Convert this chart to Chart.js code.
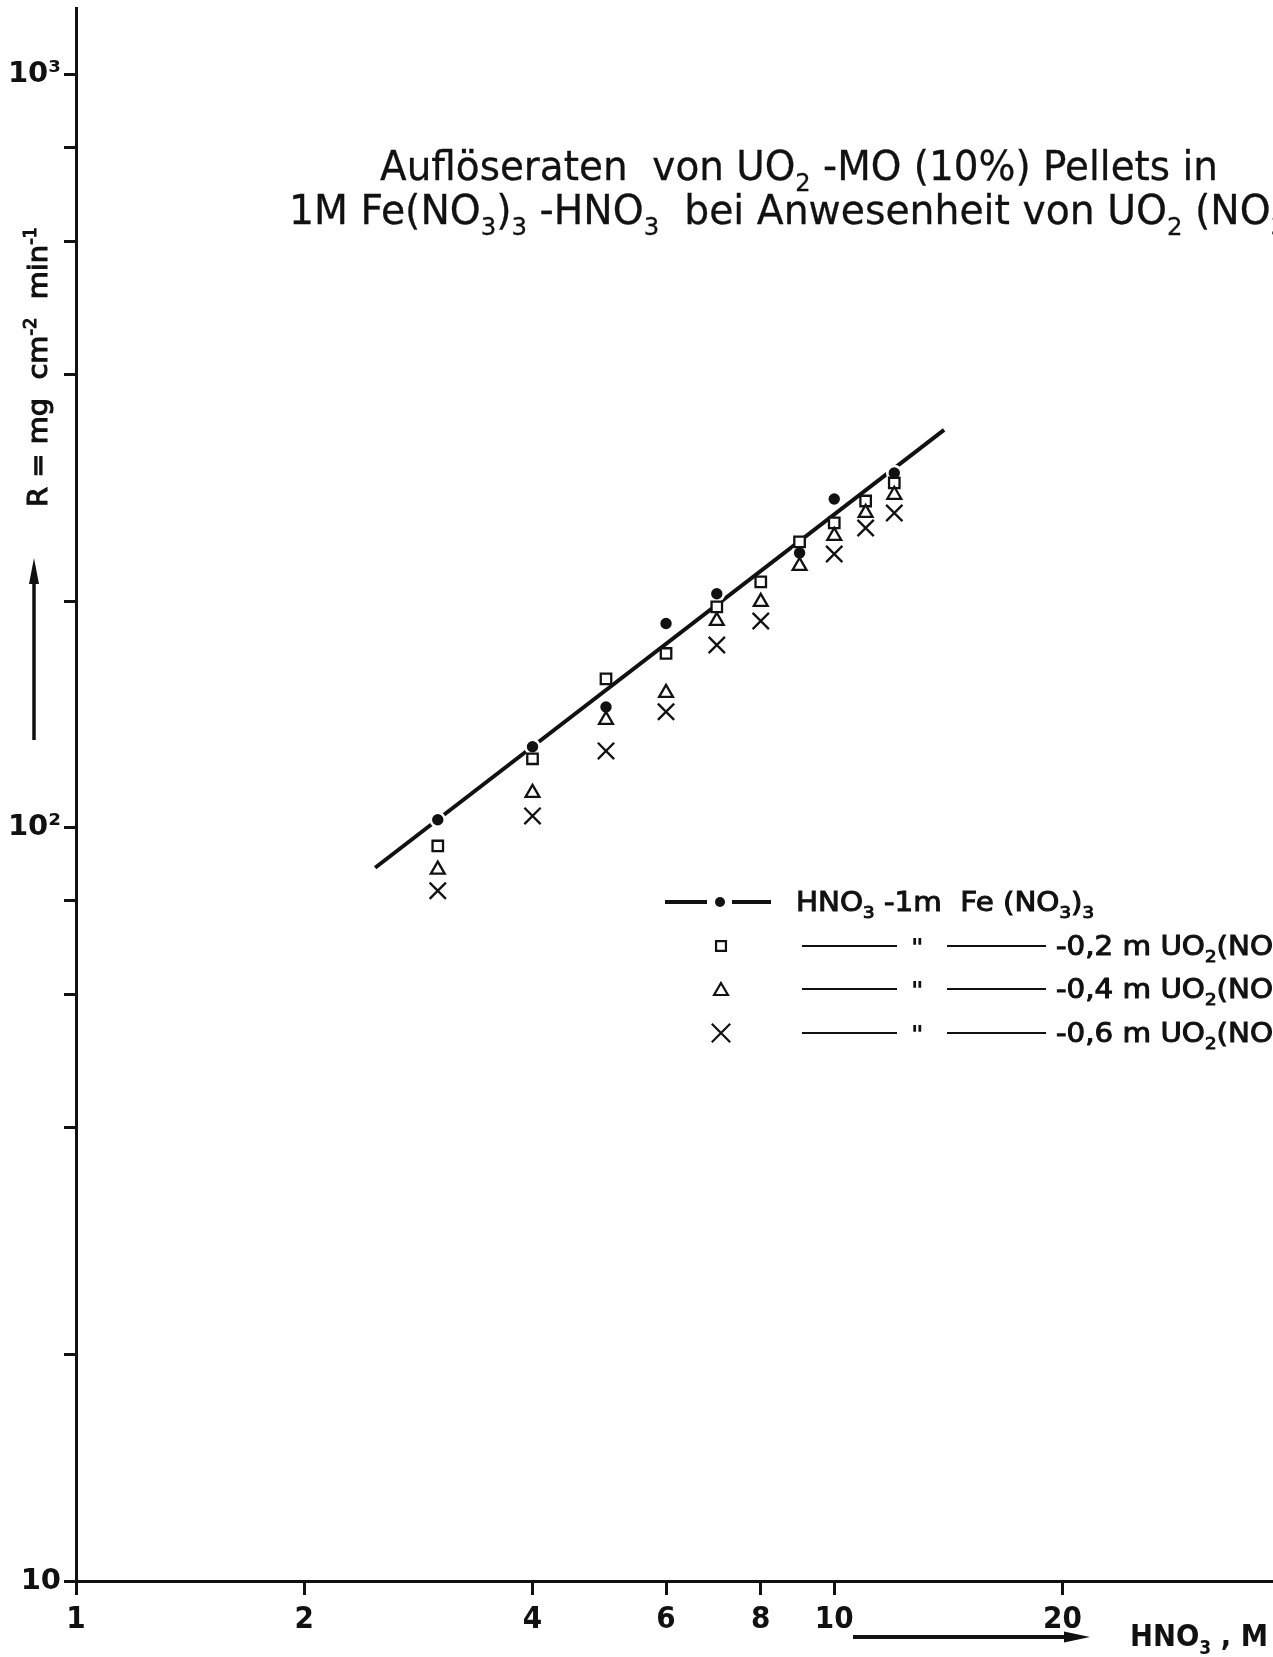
<!DOCTYPE html>
<html>
<head>
<meta charset="utf-8">
<script src="https://cdn.jsdelivr.net/npm/chart.js@4"></script>
<style>
  html, body { margin: 0; padding: 0; background: #fff; }
  canvas { display: block; }
</style>
</head>
<body>
<canvas id="chart" width="1273" height="1657"></canvas>
<script>
// HNO3 concentration (M) at which the pellets were dissolved
const concHNO3 = [3, 4, 5, 6, 7, 8, 9, 10, 11, 12];

// dissolution rate R in mg cm^-2 min^-1 (null = not measured)
const rateFe   = [102.5, 128.1, 144.7, 186.8, 204.5, null, 231.7, 273.3, null, 295.9];
const rateU02  = [94.6, 123.5, 157.7, 170.4, 196.5, 212.1, 239.7, 254.0, 271.6, 287.0];
const rateU04  = [88.0, 111.3, 139.1, 151.1, 188.3, 199.5, 222.7, 244.1, 261.9, 276.8];
const rateU06  = [82.5, 103.7, 126.5, 142.6, 174.9, 188.2, null, 231.0, 250.1, 261.8];

// straight line through the Fe(NO3)3 series (end points)
const fitLineX = [2.48, 13.96];
const fitLineR = [88.5, 337.6];

// axis ticks
const xTickValues = [1, 2, 4, 6, 8, 10, 20];
const xTickLabels = ['1', '2', '4', '6', '8', '10', '20'];
const yTickValues = [10, 20, 40, 60, 80, 100, 200, 400, 600, 800, 1000];
const yTickLabels = ['10', '', '', '', '', '10²', '', '', '', '', '10³'];

const INK = '#111';
const FAMILY = "'DejaVu Sans', 'Liberation Sans', sans-serif";

function pts(rates) {
  return concHNO3
    .map((c, i) => ({ x: c, y: rates[i] }))
    .filter(p => p.y !== null);
}

// tiny markup: _{..} subscript, ^{..} superscript
function parseRich(str) {
  const parts = [];
  const re = /([_^])\{([^}]*)\}|([^_^]+)/g;
  let m;
  while ((m = re.exec(str))) {
    if (m[3]) parts.push({ t: m[3], s: 0 });
    else parts.push({ t: m[2], s: m[1] === '_' ? 1 : -1 });
  }
  return parts;
}

function partFont(p, o) {
  const size = p.s ? o.size * 0.62 : o.size;
  return (o.weight || 'normal') + ' ' + size + 'px ' + (o.family || FAMILY);
}

function richWidth(ctx, parts, o) {
  let w = 0;
  parts.forEach(p => { ctx.font = partFont(p, o); w += ctx.measureText(p.t).width; });
  return w;
}

// draws rich text, squeezed horizontally to fit o.fit (or by o.sx); returns the squeeze
function drawRich(ctx, str, x, y, o) {
  const parts = parseRich(str);
  const w = richWidth(ctx, parts, o);
  const sx = o.fit ? o.fit / w : (o.sx || 1);
  ctx.save();
  ctx.translate(x, y);
  if (o.rotate) ctx.rotate(o.rotate);
  ctx.scale(sx, 1);
  ctx.fillStyle = INK;
  ctx.strokeStyle = INK;
  ctx.lineWidth = o.stroke || 0;
  ctx.textBaseline = 'alphabetic';
  ctx.textAlign = 'left';
  let cx = o.align === 'center' ? -w / 2 : 0;
  parts.forEach(p => {
    ctx.font = partFont(p, o);
    const dy = p.s === 1 ? o.size * 0.26 : p.s === -1 ? -o.size * 0.42 : 0;
    ctx.fillText(p.t, cx, dy);
    if (o.stroke) ctx.strokeText(p.t, cx, dy);
    cx += ctx.measureText(p.t).width;
  });
  ctx.restore();
  return sx;
}

function drawArrow(ctx, x1, y1, x2, y2, lw, headLen, headHalf) {
  const a = Math.atan2(y2 - y1, x2 - x1);
  const len = Math.hypot(x2 - x1, y2 - y1);
  ctx.save();
  ctx.translate(x1, y1);
  ctx.rotate(a);
  ctx.fillStyle = INK;
  ctx.strokeStyle = INK;
  ctx.lineWidth = lw;
  ctx.beginPath();
  ctx.moveTo(0, 0);
  ctx.lineTo(len - headLen + 2, 0);
  ctx.stroke();
  ctx.beginPath();
  ctx.moveTo(len, 0);
  ctx.lineTo(len - headLen, -headHalf);
  ctx.lineTo(len - headLen, headHalf);
  ctx.closePath();
  ctx.fill();
  ctx.restore();
}

function line(ctx, x1, y1, x2, y2, lw) {
  ctx.save();
  ctx.strokeStyle = INK;
  ctx.lineWidth = lw;
  ctx.beginPath();
  ctx.moveTo(x1, y1);
  ctx.lineTo(x2, y2);
  ctx.stroke();
  ctx.restore();
}

function marker(ctx, style, r, x, y, fill, lw) {
  ctx.save();
  ctx.fillStyle = fill;
  ctx.strokeStyle = INK;
  ctx.lineWidth = lw;
  Chart.helpers.drawPoint(ctx, { pointStyle: style, radius: r, rotation: 0, borderWidth: lw }, x, y);
  ctx.restore();
}

const annotations = {
  id: 'annotations',
  afterDraw(chart) {
    const ctx = chart.ctx;

    // title, two lines, running off the right edge
    const sx = drawRich(ctx, 'Auflöseraten  von UO_{2} -MO (10%) Pellets in', 380, 180,
      { size: 41, fit: 838, stroke: 0.3 });
    drawRich(ctx, '1M Fe(NO_{3})_{3} -HNO_{3}  bei Anwesenheit von UO_{2} (NO_{3})_{2}', 289, 224,
      { size: 41, sx: sx * 1.01, stroke: 0.3 });

    // y axis title with arrow
    drawRich(ctx, 'R = mg  cm^{-2}  min^{-1}', 47, 367,
      { size: 27, fit: 280, align: 'center', rotate: -Math.PI / 2, stroke: 1.1 });
    drawArrow(ctx, 34, 740, 34, 558, 3.5, 26, 5);

    // x axis title with arrow
    drawArrow(ctx, 853, 1637, 1090, 1637, 4, 26, 5.5);
    drawRich(ctx, 'HNO_{3} , M', 1130, 1646, { size: 30, weight: 'bold', fit: 138 });

    // legend
    const rows = [902, 946, 989, 1033];
    line(ctx, 665, rows[0], 707, rows[0], 4);
    marker(ctx, 'circle', 5, 720, rows[0], INK, 0);
    line(ctx, 732, rows[0], 771, rows[0], 4);
    const lsx = drawRich(ctx, 'HNO_{3} -1m  Fe (NO_{3})_{3}', 796, rows[0] + 9,
      { size: 26, fit: 298, stroke: 1 });

    const rowText = ['-0,2 m UO_{2}(NO_{3})_{2}', '-0,4 m UO_{2}(NO_{3})_{2}', '-0,6 m UO_{2}(NO_{3})_{2}'];
    const rowMarks = [['rect', 7, '#fff'], ['triangle', 8, '#fff'], ['crossRot', 13, INK]];
    for (let i = 0; i < 3; i++) {
      const y = rows[i + 1];
      const mk = rowMarks[i];
      marker(ctx, mk[0], mk[1], 721, y + (mk[0] === 'triangle' ? 2 : 0), mk[2], 2.2);
      line(ctx, 802, y, 897, y, 2);
      line(ctx, 947, y, 1046, y, 2);
      drawRich(ctx, '"', 911, y + 10, { size: 24, weight: 'bold' });
      drawRich(ctx, rowText[i], 1056, y + 9, { size: 26, sx: lsx, stroke: 1 });
    }
  }
};

// keep the plot area edges fixed: no extra room for end labels
function noPad(s) {
  s.paddingTop = 0;
  s.paddingBottom = 0;
  s.paddingLeft = 0;
  s.paddingRight = 0;
}

new Chart(document.getElementById('chart'), {
  type: 'scatter',
  data: {
    datasets: [
      {
        label: 'Gerade',
        data: fitLineX.map((x, i) => ({ x: x, y: fitLineR[i] })),
        showLine: true,
        borderColor: INK,
        borderWidth: 4,
        pointRadius: 0,
        order: 10
      },
      {
        label: 'HNO3 -1m Fe(NO3)3',
        data: pts(rateFe),
        pointStyle: 'circle',
        pointRadius: 7,
        pointBackgroundColor: INK,
        pointBorderColor: '#fff',
        pointBorderWidth: 2.6,
        order: 4
      },
      {
        label: '-0,2 m UO2(NO3)2',
        data: pts(rateU02),
        pointStyle: 'rect',
        pointRadius: 7.4,
        pointBackgroundColor: '#fff',
        pointBorderColor: INK,
        pointBorderWidth: 2.3,
        order: 3
      },
      {
        label: '-0,4 m UO2(NO3)2',
        data: pts(rateU04),
        pointStyle: 'triangle',
        pointRadius: 8,
        pointBackgroundColor: '#fff',
        pointBorderColor: INK,
        pointBorderWidth: 2.3,
        order: 2
      },
      {
        label: '-0,6 m UO2(NO3)2',
        data: pts(rateU06),
        pointStyle: 'crossRot',
        pointRadius: 11.5,
        pointBorderColor: INK,
        pointBorderWidth: 2.3,
        order: 1
      }
    ]
  },
  options: {
    responsive: false,
    animation: false,
    events: [],
    layout: { autoPadding: false, padding: { top: 8, left: 0, right: 0, bottom: 0 } },
    plugins: {
      legend: { display: false },
      tooltip: { enabled: false },
      title: { display: false }
    },
    scales: {
      x: {
        type: 'logarithmic',
        min: 1,
        max: 37.9,
        afterBuildTicks: s => { s.ticks = xTickValues.map(v => ({ value: v })); },
        afterFit: s => { s.height = 76; noPad(s); },
        ticks: {
          autoSkip: false,
          maxRotation: 0,
          padding: 6,
          color: INK,
          font: { family: "'DejaVu Sans Condensed', " + FAMILY, size: 31, weight: 'bold' },
          callback: (v, i) => xTickLabels[i]
        },
        grid: { drawOnChartArea: false, tickLength: 14, tickWidth: 3, tickColor: INK },
        border: { width: 3, color: INK }
      },
      y: {
        type: 'logarithmic',
        min: 10,
        max: 1226,
        afterBuildTicks: s => { s.ticks = yTickValues.map(v => ({ value: v })); },
        afterFit: s => { s.width = 76; noPad(s); },
        ticks: {
          autoSkip: false,
          padding: 3,
          color: INK,
          font: { family: FAMILY, size: 29, weight: 'bold' },
          callback: (v, i) => yTickLabels[i]
        },
        grid: { drawOnChartArea: false, tickLength: 12, tickWidth: 3, tickColor: INK },
        border: { width: 3, color: INK }
      }
    }
  },
  plugins: [annotations]
});
</script>
</body>
</html>
